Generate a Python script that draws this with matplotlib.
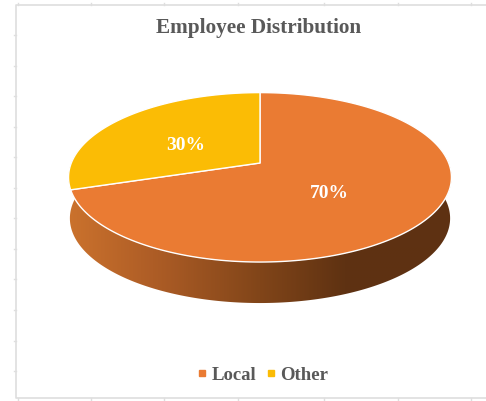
import matplotlib
matplotlib.use("Agg")
import matplotlib.pyplot as plt
import numpy as np
from matplotlib.colors import LinearSegmentedColormap
from matplotlib.lines import Line2D
from matplotlib.patches import Polygon

categories = ["Local", "Other"]
shares = [70, 30]
slice_colors = ["#EA7B33", "#FBBC05"]
label_pos = [(329, 193), (186, 146)]

title = "Employee Distribution"
frame_color = "#DEDEDE"
text_color = "#595959"

plt.rcParams["font.family"] = ["Liberation Serif", "DejaVu Serif"]
plt.rcParams["font.weight"] = "bold"

# pie geometry in pixels, tilted circle seen in perspective
cx, cy = 260, 163
sx, sy = 188.7, 82.3
persp = 0.169
depth = 41


def project(a, scale=1.0, drop=0):
    # a is clockwise from the top of the pie, in radians
    x, y = np.sin(a), np.cos(a)
    w = 1 + persp * y
    return cx + scale * sx * x / w, cy - sy * y / w + drop


fig = plt.figure(figsize=(4.86, 4.01), dpi=100)
ax = fig.add_axes([0, 0, 1, 1])

# chart frame and its tick marks
ax.plot([486, 16, 16, 486], [5, 5, 398, 398], color=frame_color, lw=1.2, zorder=1)
for x in [18, 91, 164, 238, 324, 398, 471]:
    ax.plot([x, x], [3, 5], color=frame_color, lw=1, zorder=1)
    ax.plot([x, x], [398, 401], color=frame_color, lw=1, zorder=1)
for y in np.arange(35, 380, 30.55):
    ax.plot([14, 16], [y, y], color=frame_color, lw=1, zorder=1)

# side wall with horizontal gradient
t = np.linspace(np.radians(75), np.radians(285), 300)
top_x, top_y = project(t)
low_x, low_y = project(t, scale=0.993, drop=depth)
wall = Polygon(np.column_stack([np.r_[top_x, low_x[::-1]], np.r_[top_y, low_y[::-1]]]),
               closed=True, facecolor="none", edgecolor="none")
ax.add_patch(wall)
wall_cmap = LinearSegmentedColormap.from_list(
    "wall",
    [(0.0, "#CB722D"), (0.22, "#AE5D26"), (0.5, "#814519"), (0.72, "#5F3212"), (1.0, "#5E3112")],
)
img = ax.imshow(np.linspace(0, 1, 256)[None, :], extent=[68, 451, 320, 150], aspect="auto",
                cmap=wall_cmap, zorder=2)
img.set_clip_path(wall)

# top face, slices run clockwise from the top with Other last
edges = np.cumsum([0] + shares) / sum(shares) * 2 * np.pi
for i, name in enumerate(categories):
    a = np.linspace(edges[i], edges[i + 1], 200)
    x, y = project(a)
    ax.fill(np.r_[cx, x], np.r_[cy, y], color=slice_colors[i], ec="white", lw=1.0,
            joinstyle="round", zorder=3)
    ax.text(label_pos[i][0], label_pos[i][1], f"{shares[i]}%", color="white", fontsize=14,
            ha="center", va="center", zorder=4)

ax.text(259, 28, title, color=text_color, fontsize=15.3, ha="center", va="center")

handles = [Line2D([], [], ls="", marker="s", ms=4.5, color=c) for c in slice_colors]
ax.legend(handles, categories, loc="center", bbox_to_anchor=(263 / 486, 1 - 375 / 401), ncol=2,
          frameon=False, fontsize=13.5, labelcolor=text_color, handlelength=0.45,
          handletextpad=0.3, columnspacing=0.55)

ax.set_xlim(0, 486)
ax.set_ylim(401, 0)
ax.axis("off")

fig.savefig("out.png", dpi=100)
